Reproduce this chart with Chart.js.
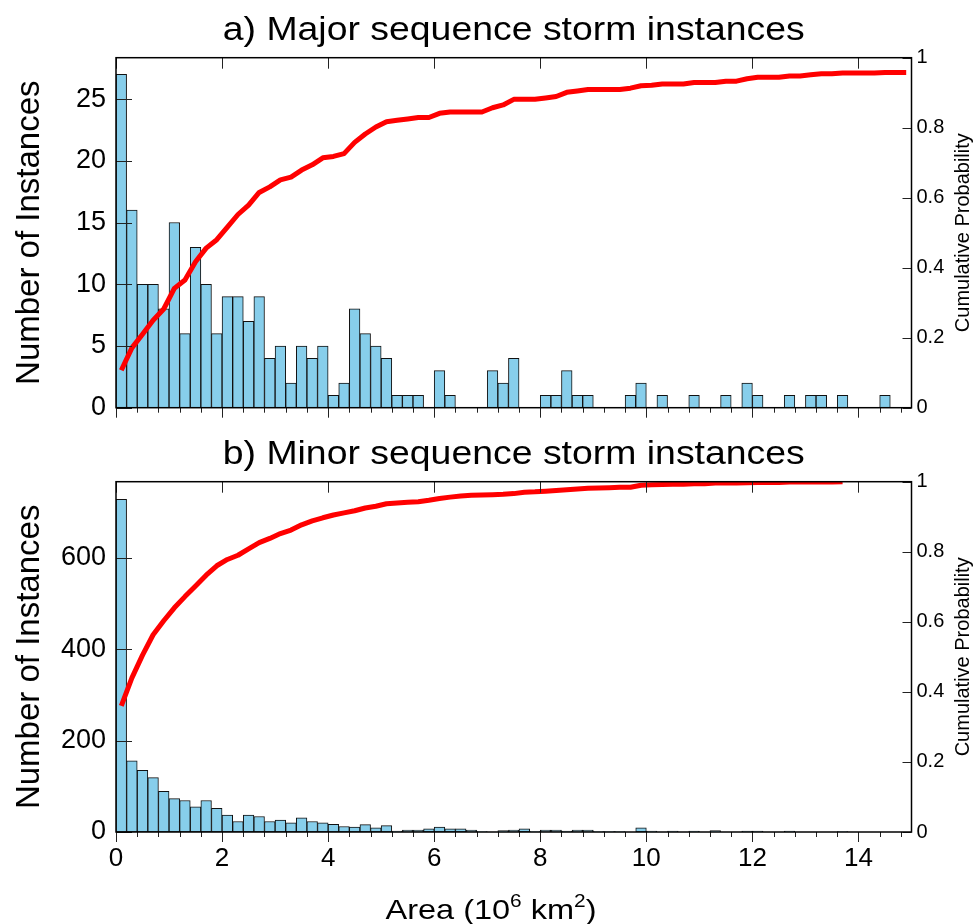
<!DOCTYPE html>
<html>
<head>
<meta charset="utf-8">
<script src="https://cdn.jsdelivr.net/npm/chart.js@4.4.0/dist/chart.umd.min.js"></script>
<style>
  html, body { margin: 0; padding: 0; background: #fff; }
  #wrap { position: relative; width: 974px; height: 924px; }
  canvas { position: absolute; left: 0; }
</style>
</head>
<body>
<div id="wrap">
  <canvas id="major" width="974" height="450" style="top:0"></canvas>
  <canvas id="minor" width="974" height="494" style="top:430px"></canvas>
</div>
<script>
// histogram bins are 0.2 (10^6 km^2) wide, from 0 to 15
const binWidth = 0.2;

const areaTicks = [0, 2, 4, 6, 8, 10, 12, 14];
const majorCountTicks = [0, 5, 10, 15, 20, 25];
const minorCountTicks = [0, 200, 400, 600];
const probTicks = [0, 0.2, 0.4, 0.6, 0.8, 1];

const majorCounts = [
  27, 16, 10, 10, 8, 15, 6, 13, 10, 6,
  9, 9, 7, 9, 4, 5, 2, 5, 4, 5,
  1, 2, 8, 6, 5, 4, 1, 1, 1, 0,
  3, 1, 0, 0, 0, 3, 2, 4, 0, 0,
  1, 1, 3, 1, 1, 0, 0, 0, 1, 2,
  0, 1, 0, 0, 1, 0, 0, 1, 0, 2,
  1, 0, 0, 1, 0, 1, 1, 0, 1, 0,
  0, 0, 1, 0, 0
];
const majorCumulative = [
  .107, .171, .210, .250, .282, .341, .365, .417, .456, .480,
  .516, .552, .579, .615, .631, .651, .659, .679, .694, .714,
  .718, .726, .758, .782, .802, .817, .821, .825, .829, .829,
  .841, .845, .845, .845, .845, .857, .865, .881, .881, .881,
  .885, .889, .901, .905, .909, .909, .909, .909, .913, .920,
  .921, .925, .925, .925, .929, .929, .929, .933, .933, .940,
  .944, .944, .944, .948, .948, .951, .954, .954, .956, .956,
  .956, .956, .958, .958, .958
];

const minorCounts = [
  728, 156, 135, 119, 89, 73, 69, 55, 69, 52,
  37, 23, 37, 34, 23, 26, 20, 31, 23, 20,
  17, 12, 11, 16, 9, 14, 2, 4, 4, 7,
  11, 7, 7, 4, 1, 0, 3, 4, 7, 1,
  4, 4, 2, 4, 4, 1, 1, 1, 0, 9,
  2, 0, 2, 0, 2, 0, 3, 0, 0, 2,
  2, 0, 0, 2, 0, 0, 0, 0, 1
];
const minorCumulative = [
  .360, .440, .505, .563, .603, .640, .672, .702, .733, .760,
  .778, .790, .808, .826, .838, .852, .862, .877, .888, .897,
  .905, .911, .917, .925, .930, .937, .939, .941, .943, .947,
  .952, .956, .959, .961, .962, .963, .964, .966, .970, .971,
  .973, .975, .977, .979, .981, .982, .983, .984, .984, .990,
  .991, .992, .993, .993, .994, .994, .996, .996, .996, .997,
  .998, .998, .998, .999, .999, .999, .999, .999, 1.0
];

const majorTitle = "a) Major sequence storm instances";
const minorTitle = "b) Minor sequence storm instances";
const countLabel = "Number of Instances";
const probLabel = "Cumulative Probability";

const FONT = "'Liberation Sans', Arial, Helvetica, sans-serif";

const fixTicks = values => scale => {
  scale.ticks = values.map(v => ({ value: v }));
};

// frame, tick marks and the extra texts
const framePlugin = {
  id: "frame",
  afterDraw(chart, args, opts) {
    const ctx = chart.ctx;
    const { left, right, top, bottom } = chart.chartArea;
    const x = chart.scales.x, y = chart.scales.y, y2 = chart.scales.y2;
    ctx.save();
    ctx.strokeStyle = "#222";
    ctx.lineWidth = 1;
    ctx.beginPath();
    for (let v = 0; v < 15; v += 0.4) {
      const px = Math.round(x.getPixelForValue(v)) + 0.5;
      ctx.moveTo(px, bottom);
      ctx.lineTo(px, bottom + 5);
    }
    x.ticks.forEach(t => {
      const px = Math.round(x.getPixelForValue(t.value)) + 0.5;
      ctx.moveTo(px, bottom);
      ctx.lineTo(px, bottom + 10);
      ctx.moveTo(px, top);
      ctx.lineTo(px, top + 11);
    });
    y.ticks.forEach(t => {
      const py = Math.round(y.getPixelForValue(t.value)) + 0.5;
      ctx.moveTo(left, py);
      ctx.lineTo(left + 16, py);
    });
    y2.ticks.forEach(t => {
      const py = Math.round(y2.getPixelForValue(t.value)) + 0.5;
      ctx.moveTo(right, py);
      ctx.lineTo(right - 9, py);
    });
    ctx.stroke();
    ctx.strokeStyle = "#000";
    ctx.lineWidth = 1.5;
    ctx.strokeRect(left, top, right - left, bottom - top);

    ctx.fillStyle = "#000";
    // panel title
    ctx.font = "34px " + FONT;
    ctx.textAlign = "center";
    ctx.textBaseline = "alphabetic";
    ctx.save();
    ctx.translate((left + right) / 2, opts.titleY);
    ctx.scale(1.1, 1);
    ctx.fillText(opts.title, 0, 0);
    ctx.restore();

    // right axis title, reads bottom to top
    ctx.save();
    ctx.font = "20px " + FONT;
    ctx.textBaseline = "middle";
    ctx.translate(963, (top + bottom) / 2);
    ctx.rotate(-Math.PI / 2);
    ctx.fillText(probLabel, 0, 0);
    ctx.restore();

    // x title with superscripts
    if (opts.xTitle) {
      const parts = [["Area (10", 28, 0], ["6", 18, -12], [" km", 28, 0], ["2", 18, -12], [")", 28, 0]];
      let w = 0;
      parts.forEach(p => { ctx.font = p[1] + "px " + FONT; w += ctx.measureText(p[0]).width; });
      ctx.save();
      ctx.translate(opts.xTitleX, opts.xTitleY);
      ctx.scale(1.16, 1);
      ctx.textAlign = "left";
      let cx = -w / 2;
      parts.forEach(p => {
        ctx.font = p[1] + "px " + FONT;
        ctx.fillText(p[0], cx, p[2]);
        cx += ctx.measureText(p[0]).width;
      });
      ctx.restore();
    }
    ctx.restore();
  }
};

function makeChart(id, counts, cumulative, yMax, yTicks, cfg) {
  const centers = counts.map((_, i) => +(binWidth * i + binWidth / 2).toFixed(2));
  const bars = counts.map((c, i) => ({ x: centers[i], y: c })).filter(p => p.y > 0);
  const line = cumulative.map((p, i) => ({ x: centers[i], y: p }));
  return new Chart(document.getElementById(id), {
    type: "bar",
    data: {
      datasets: [
        {
          type: "line",
          data: line,
          yAxisID: "y2",
          borderColor: "#ff0000",
          borderWidth: 5,
          pointRadius: 0,
          borderJoinStyle: "round",
          tension: 0,
          order: 0
        },
        {
          type: "bar",
          data: bars,
          yAxisID: "y",
          backgroundColor: "#87ceeb",
          borderColor: "#111",
          borderWidth: 1,
          borderSkipped: false,
          barPercentage: 1,
          categoryPercentage: 1,
          order: 1
        }
      ]
    },
    options: {
      responsive: false,
      animation: false,
      events: [],
      layout: { padding: { top: cfg.padTop, left: 0, right: 0, bottom: 0 } },
      plugins: {
        legend: { display: false },
        tooltip: { enabled: false },
        frame: cfg.frame
      },
      scales: {
        x: {
          type: "linear",
          min: 0,
          max: 15,
          offset: false,
          grid: { display: false, drawTicks: false },
          border: { display: false },
          afterBuildTicks: fixTicks(areaTicks),
          ticks: {
            display: cfg.showX,
            padding: 11,
            maxRotation: 0,
            autoSkip: false,
            color: "#000",
            font: { family: FONT, size: 26 }
          },
          afterFit: s => { s.height = cfg.xHeight; }
        },
        y: {
          position: "left",
          min: 0,
          max: yMax,
          grid: { display: false, drawTicks: false },
          border: { display: false },
          afterBuildTicks: fixTicks(yTicks),
          ticks: {
            padding: 10,
            autoSkip: false,
            color: "#000",
            font: { family: FONT, size: 27 }
          },
          title: {
            display: true,
            text: countLabel,
            color: "#000",
            font: { family: FONT, size: 33 },
            padding: { top: 10, bottom: 0 }
          },
          afterFit: s => { s.width = 116; }
        },
        y2: {
          position: "right",
          min: 0,
          max: 1,
          grid: { display: false, drawTicks: false },
          border: { display: false },
          afterBuildTicks: fixTicks(probTicks),
          ticks: {
            padding: 5,
            autoSkip: false,
            color: "#000",
            font: { family: FONT, size: 20 },
            callback: v => String(+v.toFixed(1))
          },
          afterFit: s => { s.width = 62.5; }
        }
      }
    },
    plugins: [framePlugin]
  });
}

makeChart("major", majorCounts, majorCumulative, 28.35, majorCountTicks, {
  padTop: 57.7,
  xHeight: 450 - 407.7,
  showX: false,
  frame: { title: majorTitle, titleY: 40 }
});

makeChart("minor", minorCounts, minorCumulative, 766.5, minorCountTicks, {
  padTop: 481.7 - 430,
  xHeight: 494 - (832 - 430),
  showX: true,
  frame: { title: minorTitle, titleY: 464 - 430, xTitle: true, xTitleX: 491, xTitleY: 919 - 430 }
});
</script>
</body>
</html>
